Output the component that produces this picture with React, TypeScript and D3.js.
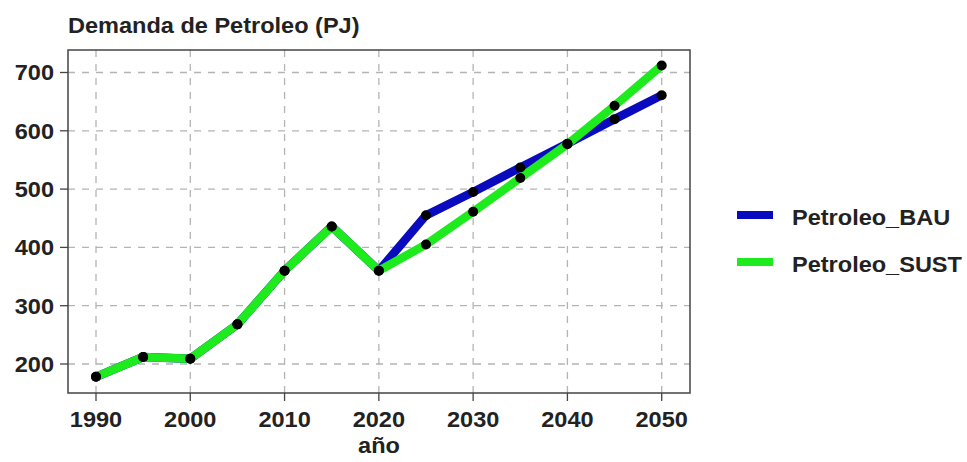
import React from "react";
import * as d3 from "d3";

const years = [1990, 1995, 2000, 2005, 2010, 2015, 2020, 2025, 2030, 2035, 2040, 2045, 2050];
const bauValues = [178, 212, 209, 268, 360, 436, 360, 455, 495, 537, 578, 620, 661];
const sustValues = [178, 212, 209, 268, 360, 436, 360, 405, 461, 519, 577, 643, 712];
const xTicks = [1990, 2000, 2010, 2020, 2030, 2040, 2050];
const yTicks = [200, 300, 400, 500, 600, 700];
const seriesNames = ["Petroleo_BAU", "Petroleo_SUST"];
const seriesColors = ["#0A0ABE", "#1EEB1E"];

const W = 967;
const H = 462;
const box = { left: 68, right: 690, top: 50, bottom: 393 };
const SX = 1.07;

function T(props: {
  x: number;
  y: number;
  anchor?: "start" | "middle" | "end";
  size?: number;
  dy?: string;
  children: React.ReactNode;
}) {
  return (
    <text
      transform={`translate(${props.x},${props.y}) scale(${SX},1)`}
      textAnchor={props.anchor || "start"}
      fontSize={props.size || 22}
      fontWeight="bold"
      fill="#222"
      dy={props.dy}
    >
      {props.children}
    </text>
  );
}

export default function App() {
  const x = d3.scaleLinear().domain([1990, 2050]).range([96, 661.7]);
  const y = d3.scaleLinear().domain([200, 700]).range([364, 72.5]);
  const series = [bauValues, sustValues];
  const line = d3
    .line<number>()
    .x((_, i) => x(years[i]))
    .y((d) => y(d));
  const font = "'Liberation Sans', Arial, sans-serif";
  const gridColor = "#b4b4b4";

  return (
    <svg
      width={W}
      height={H}
      style={{ position: "absolute", left: 0, top: 0, background: "#fff" }}
      fontFamily={font}
    >
      <rect x={0} y={0} width={W} height={H} fill="#fff" />
      {xTicks.map((t) => (
        <line
          key={"gx" + t}
          x1={x(t)}
          x2={x(t)}
          y1={box.top}
          y2={box.bottom}
          stroke={gridColor}
          strokeWidth={1.3}
          strokeDasharray="7,7"
        />
      ))}
      {yTicks.map((t) => (
        <line
          key={"gy" + t}
          x1={box.left}
          x2={box.right}
          y1={y(t)}
          y2={y(t)}
          stroke={gridColor}
          strokeWidth={1.3}
          strokeDasharray="7,7"
        />
      ))}
      {series.map((s, k) => (
        <path
          key={"l" + k}
          d={line(s) || ""}
          fill="none"
          stroke={seriesColors[k]}
          strokeWidth={8.5}
          strokeLinejoin="round"
        />
      ))}
      {series.map((s, k) =>
        s.map((v, i) => (
          <circle key={"p" + k + "-" + i} cx={x(years[i])} cy={y(v)} r={5} fill="#000" />
        ))
      )}
      <rect
        x={box.left}
        y={box.top}
        width={box.right - box.left}
        height={box.bottom - box.top}
        fill="none"
        stroke="#444"
        strokeWidth={1.5}
      />
      {xTicks.map((t) => (
        <g key={"xt" + t}>
          <line x1={x(t)} x2={x(t)} y1={box.bottom} y2={box.bottom + 8} stroke="#444" strokeWidth={1.3} />
          <T x={x(t)} y={427} anchor="middle">
            {t}
          </T>
        </g>
      ))}
      {yTicks.map((t) => (
        <g key={"yt" + t}>
          <line x1={box.left - 8} x2={box.left} y1={y(t)} y2={y(t)} stroke="#444" strokeWidth={1.3} />
          <T x={54} y={y(t)} anchor="end" dy="0.36em">
            {t}
          </T>
        </g>
      ))}
      <T x={(box.left + box.right) / 2} y={453} anchor="middle">
        año
      </T>
      <T x={68} y={33} size={22}>
        Demanda de Petroleo (PJ)
      </T>
      {seriesNames.map((n, k) => (
        <g key={"lg" + k}>
          <line
            x1={737}
            x2={773}
            y1={215 + k * 47}
            y2={215 + k * 47}
            stroke={seriesColors[k]}
            strokeWidth={8}
          />
          <T x={792} y={215 + k * 47} dy="0.45em">
            {n}
          </T>
        </g>
      ))}
    </svg>
  );
}
